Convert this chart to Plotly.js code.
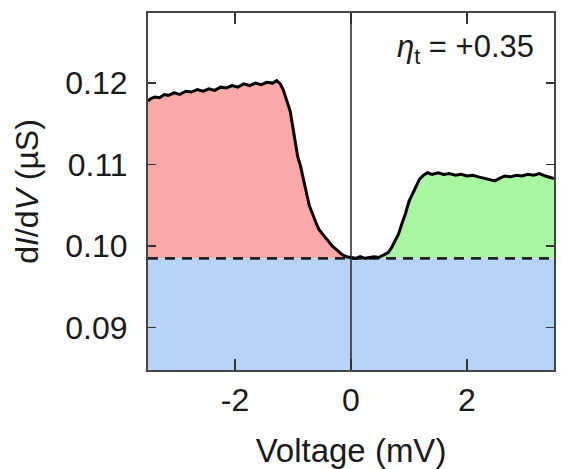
<!DOCTYPE html>
<html><head><meta charset="utf-8">
<script src="https://cdn.plot.ly/plotly-3.0.1.min.js"></script>
<style>html,body{margin:0;padding:0;background:#fff}#c{width:561px;height:469px}</style>
</head><body><div id="c"></div>
<script>
// Left branch (V < 0), voltage in mV and dI/dV in µS
const leftV = [-3.50,-3.45,-3.38,-3.30,-3.22,-3.15,-3.05,-2.95,-2.85,-2.75,-2.65,-2.55,-2.45,-2.35,-2.25,-2.15,-2.05,-1.95,-1.85,-1.75,-1.65,-1.55,-1.45,-1.35,-1.28,-1.22,-1.17,-1.11,-1.05,-1.00,-0.96,-0.92,-0.87,-0.82,-0.77,-0.72,-0.66,-0.60,-0.55,-0.48,-0.40,-0.32,-0.24,-0.16,-0.08,0.00];
const leftG = [0.1178,0.1181,0.1183,0.1182,0.1186,0.1185,0.1188,0.1186,0.1190,0.1189,0.1192,0.1190,0.1193,0.1191,0.1195,0.1194,0.1197,0.1195,0.1199,0.1197,0.1200,0.1198,0.1201,0.1200,0.1203,0.1199,0.1192,0.1180,0.1166,0.1145,0.1127,0.1110,0.1098,0.1080,0.1066,0.1050,0.1038,0.1028,0.1020,0.1014,0.1006,0.1000,0.0995,0.0990,0.0987,0.0986];
// Right branch (V > 0)
const rightV = [0.00,0.08,0.16,0.24,0.32,0.40,0.48,0.56,0.64,0.70,0.76,0.82,0.88,0.94,1.00,1.06,1.12,1.18,1.25,1.32,1.40,1.50,1.60,1.70,1.80,1.90,2.00,2.10,2.20,2.30,2.40,2.48,2.56,2.65,2.75,2.85,2.95,3.05,3.15,3.25,3.35,3.45,3.50];
const rightG = [0.0986,0.0985,0.0987,0.0985,0.0986,0.0987,0.0986,0.0989,0.0992,0.0998,0.1006,0.1015,0.1028,0.1040,0.1055,0.1064,0.1074,0.1082,0.1087,0.1090,0.1088,0.1090,0.1088,0.1089,0.1087,0.1088,0.1086,0.1087,0.1085,0.1083,0.1081,0.1080,0.1083,0.1086,0.1085,0.1087,0.1086,0.1088,0.1087,0.1089,0.1086,0.1084,0.1083];
// Background conductance level (dashed line)
const baseV = [-3.5, 0, 3.5];
const baseG = 0.0985;
const xTicks = [-2, 0, 2];
const yTicks = [0.09, 0.10, 0.11, 0.12];
const yTickText = ['0.09','0.10','0.11','0.12'];
const etaLabel = '<i>η</i><sub>t</sub> = +0.35';

const FONT = 'Liberation Sans, Arial, sans-serif';
const INK = '#1a1a1a';
const RED = '#faa8a8', GREEN = '#aaf6a2', BLUE = '#b8d3f8';

const traces = [
  {x:[baseV[0], baseV[2]], y:[baseG, baseG], mode:'lines', line:{width:0}, fill:'tozeroy', fillcolor:BLUE, hoverinfo:'skip', showlegend:false},
  {x:[baseV[0], baseV[1]], y:[baseG, baseG], mode:'lines', line:{width:0}, hoverinfo:'skip', showlegend:false},
  {x:leftV, y:leftG, mode:'lines', line:{width:0}, fill:'tonexty', fillcolor:RED, hoverinfo:'skip', showlegend:false},
  {x:[baseV[1], baseV[2]], y:[baseG, baseG], mode:'lines', line:{width:0}, hoverinfo:'skip', showlegend:false},
  {x:rightV, y:rightG, mode:'lines', line:{width:0}, fill:'tonexty', fillcolor:GREEN, hoverinfo:'skip', showlegend:false},
  {x:[baseV[0], baseV[2]], y:[baseG, baseG], mode:'lines', line:{color:'#222', width:2.6, dash:'10px,7px'}, showlegend:false},
  {x:leftV.concat(rightV.slice(1)), y:leftG.concat(rightG.slice(1)), mode:'lines', line:{color:'#000', width:3}, showlegend:false}
];

const layout = {
  width:561, height:469,
  margin:{l:148, r:7, t:13, b:99},
  paper_bgcolor:'#fff', plot_bgcolor:'#fff',
  font:{family:FONT, color:INK, size:32},
  xaxis:{range:[-3.5,3.5], tickvals:xTicks, ticktext:xTicks.map(String), ticks:'inside', ticklen:11, tickwidth:1.5, tickcolor:'#333',
         showline:true, linecolor:'#444', linewidth:2, mirror:'ticks', showgrid:false, zeroline:false,
         tickfont:{size:32, family:FONT, color:INK}, ticklabelstandoff:1,
         title:{text:'Voltage (mV)', font:{size:33, family:FONT, color:INK}, standoff:22}},
  yaxis:{range:[0.0848,0.1286], tickvals:yTicks, ticktext:yTickText, ticks:'inside', ticklen:8, tickwidth:1.5, tickcolor:'#333',
         showline:true, linecolor:'#444', linewidth:2, mirror:'ticks', showgrid:false, zeroline:false,
         tickfont:{size:32, family:FONT, color:INK}, ticklabelstandoff:12,
         title:{text:'d<i>I</i>/d<i>V</i> (µS)', font:{size:32, family:FONT, color:INK}, standoff:17}},
  shapes:[{type:'line', xref:'x', yref:'paper', x0:0, x1:0, y0:0, y1:1, line:{color:'#333', width:1.6}}],
  annotations:[{xref:'paper', yref:'paper', x:0.955, y:0.9, xanchor:'right', yanchor:'middle', showarrow:false,
                text:etaLabel, font:{size:31, family:FONT, color:INK}}]
};

Plotly.newPlot('c', traces, layout, {staticPlot:true, displayModeBar:false});
</script>
</body></html>
